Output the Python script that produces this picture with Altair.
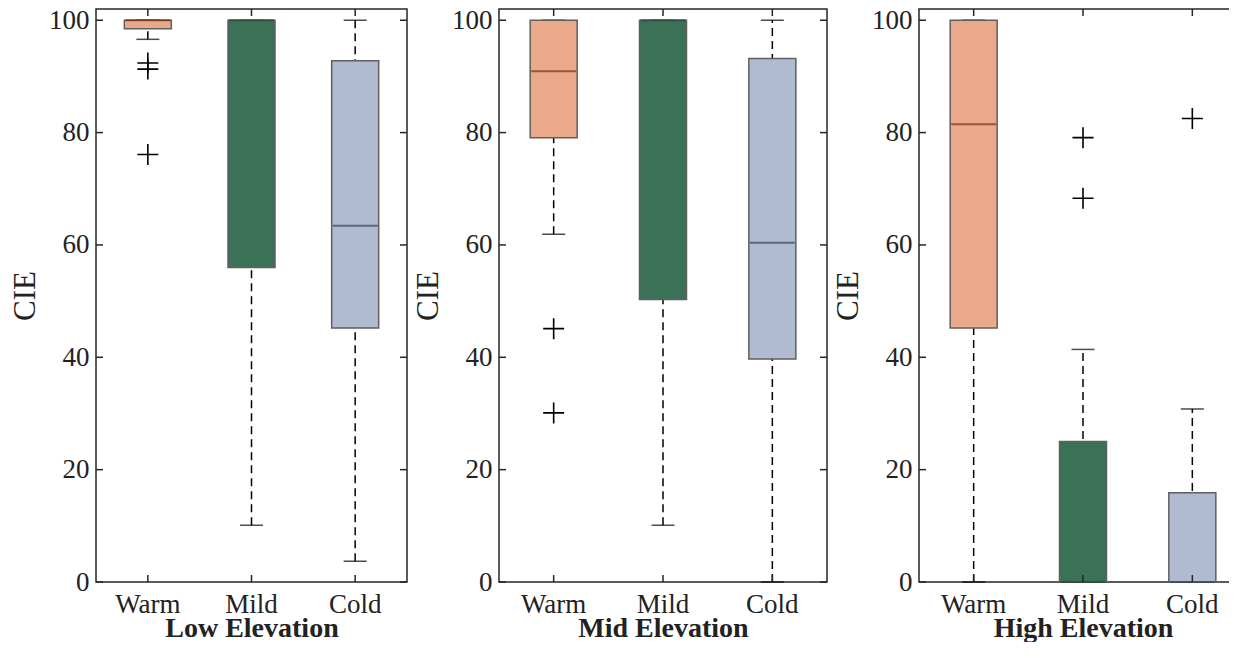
import altair as alt
import pandas as pd

categories = ["Warm", "Mild", "Cold"]
panel_titles = ["Low Elevation", "Mid Elevation", "High Elevation"]
y_ticks = [0, 20, 40, 60, 80, 100]

box_colors = ["#EBA98B", "#3A7157", "#B0BBD1"]
median_colors = ["#7B2E0E", "#1E4A33", "#36435E"]

# Low elevation
low_whisker_lo = [96.6, 10.1, 3.7]
low_q1 = [98.5, 56.0, 45.2]
low_median = [100, 100, 63.4]
low_q3 = [100, 100, 92.8]
low_whisker_hi = [100, 100, 100]
low_out_cat = ["Warm", "Warm", "Warm"]
low_out_val = [92.4, 91.3, 76.1]

# Mid elevation
mid_whisker_lo = [61.9, 10.1, 0]
mid_q1 = [79.1, 50.3, 39.7]
mid_median = [90.9, 100, 60.4]
mid_q3 = [100, 100, 93.2]
mid_whisker_hi = [100, 100, 100]
mid_out_cat = ["Warm", "Warm"]
mid_out_val = [45.1, 30.1]

# High elevation
high_whisker_lo = [0, 0, 0]
high_q1 = [45.2, 0, 0]
high_median = [81.5, 0, 0]
high_q3 = [100, 25.0, 15.9]
high_whisker_hi = [100, 41.4, 30.8]
high_out_cat = ["Mild", "Mild", "Cold"]
high_out_val = [79.1, 68.3, 82.5]

FONT = "Liberation Serif"
TXT = "#222222"
FRAME = "#262626"
HEIGHT = 573
BOX_W = 47
TICK_LEN = 7


def panel(title, lo, q1, med, q3, hi, out_cat, out_val, width):
    df = pd.DataFrame({"cat": categories, "lo": lo, "q1": q1, "med": med, "q3": q3, "hi": hi})
    out_df = pd.DataFrame({"cat": out_cat, "val": out_val})
    yt = pd.DataFrame({"v": y_ticks})
    xt = pd.DataFrame({"cat": categories})

    xscale = alt.Scale(domain=categories, paddingInner=0, paddingOuter=0)
    yscale = alt.Scale(domain=[0, 102], nice=False, zero=False)

    x_axis = alt.Axis(title=title, labelAngle=0, labelPadding=9, titlePadding=-3,
                      labelFontSize=27, titleFontSize=28, titleFontWeight="bold")
    y_axis = alt.Axis(title="CIE", values=y_ticks, labelPadding=7, titlePadding=7,
                      labelFontSize=27, titleFontSize=31, titleFontWeight="normal")

    def X():
        return alt.X("cat:N", sort=categories, scale=xscale, axis=x_axis)

    def Y(f):
        return alt.Y(f, scale=yscale, axis=y_axis)

    base = alt.Chart(df)
    whisk = base.mark_rule(color="black", strokeWidth=1.5, strokeDash=[8, 5]).encode(
        x=X(), y=Y("lo:Q"), y2="hi:Q",
    )
    cap_lo = base.mark_tick(color="black", size=23, thickness=1.5, orient="horizontal").encode(
        x=X(), y=Y("lo:Q"),
    )
    cap_hi = base.mark_tick(color="black", size=23, thickness=1.5, orient="horizontal").encode(
        x=X(), y=Y("hi:Q"),
    )
    box = base.mark_bar(size=BOX_W, stroke="#5f5f5f", strokeWidth=1.5).encode(
        x=X(), y=Y("q1:Q"), y2="q3:Q",
        fill=alt.Fill("cat:N", scale=alt.Scale(domain=categories, range=box_colors), legend=None),
    )
    median = base.mark_tick(size=BOX_W - 2, thickness=2, orient="horizontal").encode(
        x=X(), y=Y("med:Q"),
        color=alt.Color("cat:N", scale=alt.Scale(domain=categories, range=median_colors), legend=None),
    )
    outl = alt.Chart(out_df).mark_point(shape="M-1,0H1M0,-1V1", size=441, filled=False,
                                        strokeWidth=1.6, color="black", opacity=1).encode(
        x=X(), y=Y("val:Q"),
    )
    lt = alt.Chart(yt).mark_rule(color=FRAME, strokeWidth=1.5).encode(
        x=alt.value(0), x2=alt.value(TICK_LEN), y=Y("v:Q"))
    rt = alt.Chart(yt).mark_rule(color=FRAME, strokeWidth=1.5).encode(
        x=alt.value(width - TICK_LEN), x2=alt.value(width), y=Y("v:Q"))
    tt = alt.Chart(xt).mark_rule(color=FRAME, strokeWidth=1.5).encode(
        x=X(), y=alt.value(0), y2=alt.value(TICK_LEN))
    bt = alt.Chart(xt).mark_rule(color=FRAME, strokeWidth=1.5).encode(
        x=X(), y=alt.value(HEIGHT - TICK_LEN), y2=alt.value(HEIGHT))

    return alt.layer(whisk, cap_lo, cap_hi, box, median, outl, lt, rt, tt, bt).properties(
        width=width, height=HEIGHT)


p1 = panel(panel_titles[0], low_whisker_lo, low_q1, low_median, low_q3, low_whisker_hi,
           low_out_cat, low_out_val, 311)
p2 = panel(panel_titles[1], mid_whisker_lo, mid_q1, mid_median, mid_q3, mid_whisker_hi,
           mid_out_cat, mid_out_val, 328)
p3 = panel(panel_titles[2], high_whisker_lo, high_q1, high_median, high_q3, high_whisker_hi,
           high_out_cat, high_out_val, 328)

chart = alt.hconcat(p1, p2, p3, spacing=2).properties(
    padding={"left": 0, "top": -3, "right": -20, "bottom": -1},
    background="white",
).configure_view(
    stroke=FRAME, strokeWidth=1.5
).configure_axis(
    labelFont=FONT, titleFont=FONT,
    labelColor=TXT, titleColor=TXT, domain=False, ticks=False, grid=False
)

chart.save("out.html", embed_options={"renderer": "svg", "actions": False})
